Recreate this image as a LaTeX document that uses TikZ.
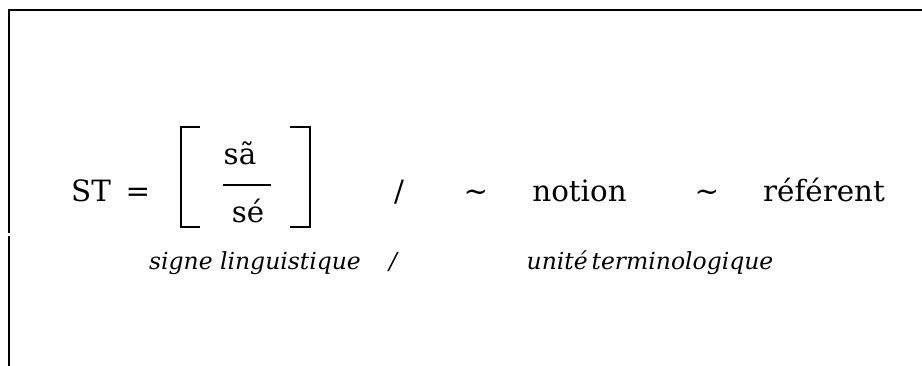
\documentclass[tikz,border=0pt]{standalone}
\usepackage{fontspec}
\setmainfont{DejaVu Serif}
\begin{document}
\begin{tikzpicture}[x=0.75pt,y=-0.75pt,
  main/.style={font=\fontsize{22}{26}\selectfont, inner sep=0pt, anchor=base},
  sub/.style={font=\fontsize{17.6}{20}\selectfont\itshape, inner sep=0pt, anchor=base},
  frame/.style={line width=1.8pt},
  brk/.style={line width=1.6pt}]
\useasboundingbox (0,0) rectangle (922,366);
% frame
\draw[frame] (922,10) -- (9,10) -- (9,233);
\draw[frame] (9,236) -- (9,366);
% main row
\node[main] (st) at (91,202) {ST};
\node[main] (eq) at (138,202) {=};
\node[main] (sa) at (240,165) {sã};
\node[main] (se) at (248,223) {sé};
\draw[line width=1.2pt] (223,185) -- (271,185);
\draw[brk] (200,127) -- (181,127) -- (181,227) -- (200,227);
\draw[brk] (290,127) -- (310,127) -- (310,227) -- (290,227);
\node[main] (sl) at (399,202) {/};
\node[main] (t1) at (476,202) {\char`\~};
\node[main] (no) at (579.5,202) {notion};
\node[main] (t2) at (707,202) {\char`\~};
\node[main] (re) at (824,202) {référent};
% sub row
\node[sub] (sg) at (255,270) {signe linguistique};
\node[sub] (s2) at (393,270) {/};
\node[sub] (ut) at (650,270) {unité\,terminologique};
\end{tikzpicture}
\end{document}
